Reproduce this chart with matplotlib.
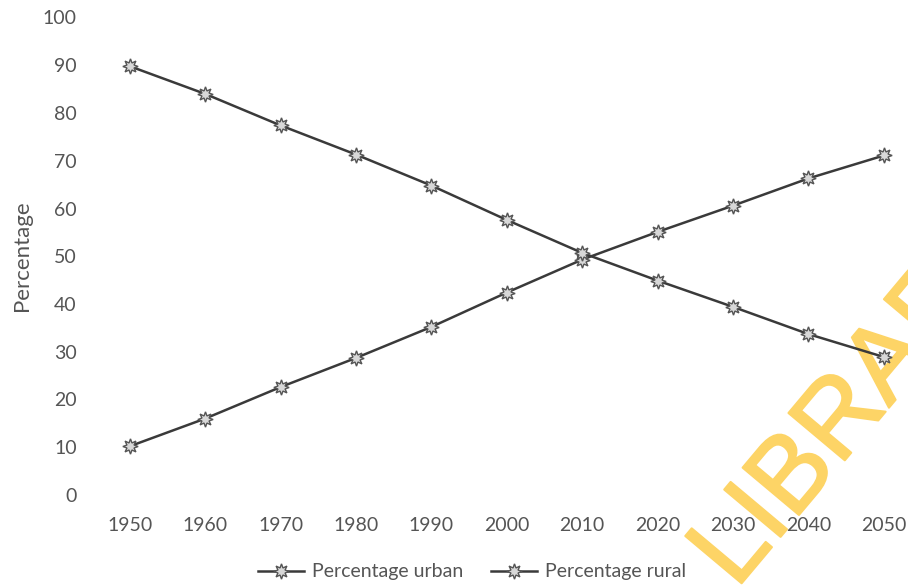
import matplotlib
matplotlib.use("Agg")
import matplotlib.pyplot as plt
import matplotlib.patheffects as pe

years = [1950, 1960, 1970, 1980, 1990, 2000, 2010, 2020, 2030, 2040, 2050]
urban = [10.2, 16.0, 22.6, 28.7, 35.2, 42.4, 49.3, 55.1, 60.6, 66.3, 71.1]
rural = [89.8, 84.0, 77.4, 71.3, 64.8, 57.6, 50.7, 44.9, 39.4, 33.7, 28.9]
y_ticks = [0, 10, 20, 30, 40, 50, 60, 70, 80, 90, 100]
series_names = ["Percentage urban", "Percentage rural"]

plt.rcParams["font.family"] = ["Lato", "DejaVu Sans"]
text_color = "#555555"

W, H = 908, 586
fig = plt.figure(figsize=(W / 100, H / 100), dpi=100)
fig.patch.set_facecolor("white")

left_px, right_px = 92, 908
top_px, bottom_px = 17.5, 495
ax = fig.add_axes([left_px / W, 1 - bottom_px / H,
                   (right_px - left_px) / W, (bottom_px - top_px) / H])
ax.set_facecolor("none")
ax.set_zorder(1)

line_kw = dict(color="#3a3a3a", lw=1.8, marker=(8, 1, 0), ms=11,
               mfc="#d8d8d8", mec="#555555", mew=1.0)
h1, = ax.plot(years, urban, **line_kw)
h2, = ax.plot(years, rural, **line_kw)

ax.set_xlim(1945, 2053.2)
ax.set_ylim(0, 100)
ax.set_xticks(years)
ax.set_yticks(y_ticks)
ax.tick_params(length=0, labelsize=14, colors=text_color)
ax.tick_params(axis="y", pad=11)
ax.tick_params(axis="x", pad=16)
for s in ax.spines.values():
    s.set_visible(False)

fig.text(22 / W, 1 - 256 / H, "Percentage", rotation=90, ha="center",
         va="center", fontsize=16, color=text_color)

leg = fig.legend([h1, h2], series_names, loc="center",
                 bbox_to_anchor=(472 / W, 1 - 572 / H), ncol=2, frameon=False,
                 fontsize=14, labelcolor=text_color, handlelength=2.4,
                 columnspacing=1.4, handletextpad=0.4)
leg.set_zorder(2)

# stamp across the lower right corner, beneath the plot content
stamp_color = "#fdd466"
fig.text(736 / W, 1 - 590 / H, "LIBRARY", rotation=50, rotation_mode="anchor",
         ha="left", va="baseline", fontsize=77, color=stamp_color,
         fontfamily=["Liberation Sans", "DejaVu Sans"], zorder=-1,
         path_effects=[pe.withStroke(linewidth=1.5, foreground=stamp_color)])

fig.savefig("out.png", dpi=100, facecolor="white")
